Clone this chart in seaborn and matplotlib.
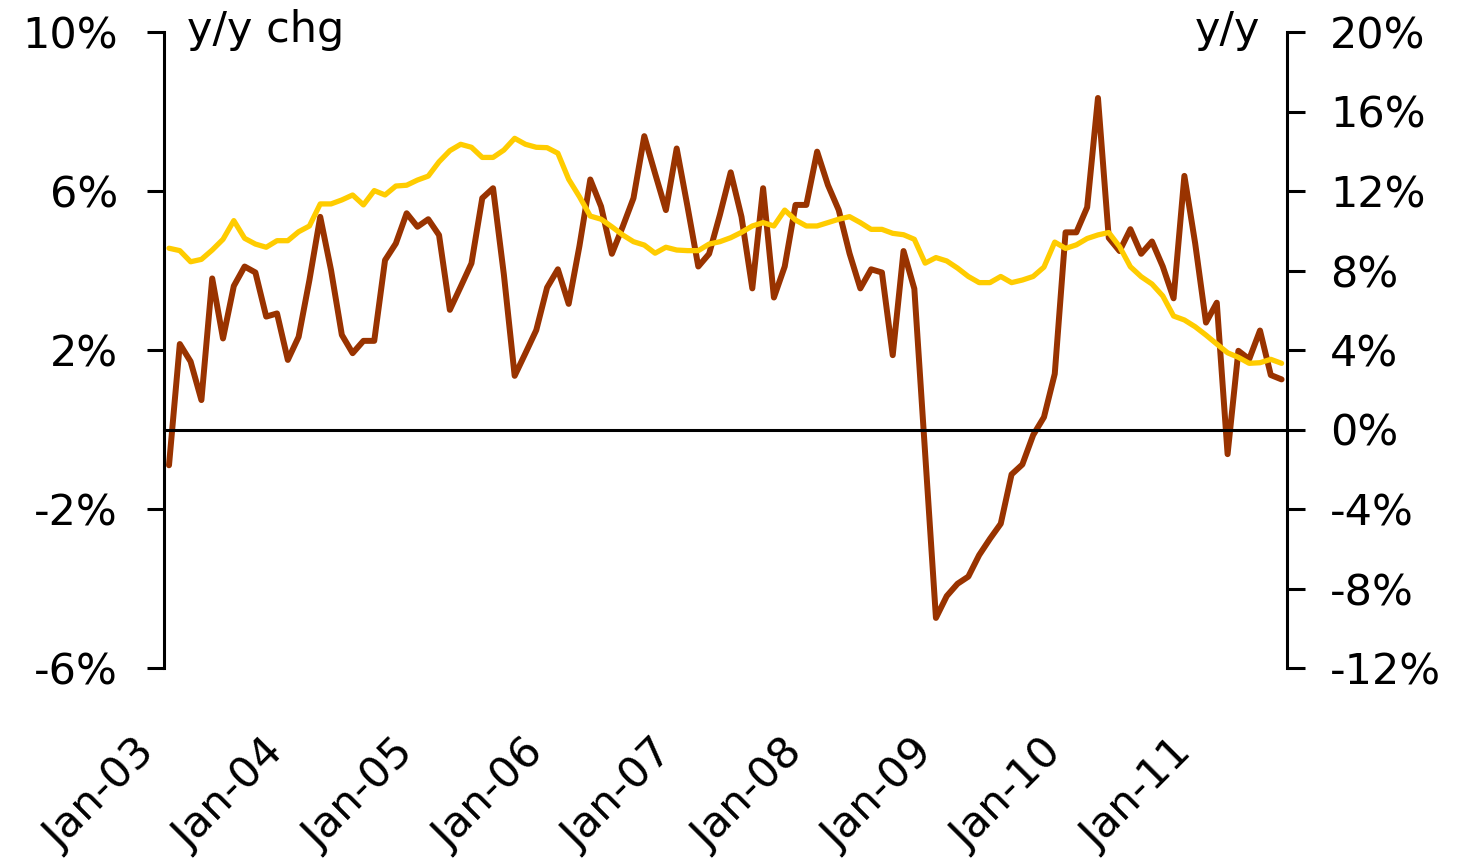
import numpy as np
import pandas as pd
import matplotlib
matplotlib.use('Agg')
import matplotlib.pyplot as plt
import seaborn as sns

# monthly categories Jan-03 .. Aug-11
months = pd.date_range('2003-01-01', periods=104, freq='MS').strftime('%b-%y')

# left axis series (y/y chg, %)
chg = [-0.90, 2.15, 1.71, 0.74, 3.80, 2.29, 3.61, 4.10, 3.95, 2.84, 2.92, 1.75,
       2.33, 3.76, 5.35, 4.01, 2.38, 1.92, 2.23, 2.23, 4.26, 4.68, 5.44, 5.10,
       5.29, 4.89, 3.01, 3.59, 4.18, 5.82, 6.07, 3.90, 1.35, 1.92, 2.50, 3.57,
       4.03, 3.16, 4.62, 6.29, 5.61, 4.42, 5.10, 5.82, 7.38, 6.44, 5.52, 7.07,
       5.61, 4.10, 4.42, 5.40, 6.47, 5.35, 3.55, 6.07, 3.32, 4.10, 5.65, 5.65,
       6.99, 6.15, 5.52, 4.43, 3.55, 4.03, 3.95, 1.87, 4.49, 3.54, -0.60, -4.74,
       -4.19, -3.88, -3.70, -3.16, -2.75, -2.37, -1.13, -0.88, -0.14, 0.31, 1.40, 4.96,
       4.96, 5.59, 8.34, 4.82, 4.49, 5.04, 4.42, 4.73, 4.10, 3.30, 6.38, 4.68,
       2.69, 3.19, -0.62, 1.98, 1.77, 2.49, 1.37, 1.26]

# right axis series (y/y, %)
yy = [9.12, 9.00, 8.44, 8.56, 9.03, 9.57, 10.51, 9.62, 9.33, 9.17, 9.50, 9.50,
      9.95, 10.24, 11.35, 11.35, 11.55, 11.80, 11.30, 12.02, 11.80, 12.25, 12.29, 12.55,
      12.75, 13.47, 14.03, 14.35, 14.20, 13.69, 13.69, 14.06, 14.65, 14.35, 14.20, 14.18,
      13.90, 12.59, 11.71, 10.74, 10.58, 10.20, 9.79, 9.45, 9.28, 8.87, 9.17, 9.03,
      9.00, 9.00, 9.33, 9.45, 9.65, 9.92, 10.24, 10.41, 10.24, 11.04, 10.54, 10.24,
      10.24, 10.41, 10.58, 10.71, 10.41, 10.07, 10.07, 9.87, 9.80, 9.57, 8.37, 8.65,
      8.48, 8.12, 7.70, 7.39, 7.39, 7.70, 7.39, 7.52, 7.70, 8.17, 9.43, 9.11,
      9.29, 9.61, 9.79, 9.91, 9.20, 8.19, 7.69, 7.32, 6.72, 5.71, 5.51, 5.17,
      4.75, 4.30, 3.86, 3.63, 3.33, 3.36, 3.53, 3.33]

left_ticks = [-6, -2, 2, 6, 10]
left_labels = ['-6%', '-2%', '2%', '6%', '10%']
right_ticks = [-12, -8, -4, 0, 4, 8, 12, 16, 20]
right_labels = ['-12%', '-8%', '-4%', '0%', '4%', '8%', '12%', '16%', '20%']
year_labels = ['Jan-03', 'Jan-04', 'Jan-05', 'Jan-06', 'Jan-07',
               'Jan-08', 'Jan-09', 'Jan-10', 'Jan-11']

sns.set_style('white')
plt.rcParams['font.family'] = ['DejaVu Sans']
plt.rcParams['text.color'] = 'black'
plt.rcParams['xtick.color'] = 'black'
plt.rcParams['ytick.color'] = 'black'

df = pd.DataFrame({'month': months, 'pos': np.arange(len(months)), 'chg': chg, 'yy': yy})

fig = plt.figure(figsize=(14.69, 8.59), dpi=100)
ax = fig.add_axes([163.6 / 1469, 1 - 668 / 859, (1287 - 163.6) / 1469, 636 / 859])
ax2 = ax.twinx()

sns.lineplot(data=df, x='pos', y='chg', ax=ax, color='#993300', linewidth=4.3)
sns.lineplot(data=df, x='pos', y='yy', ax=ax2, color='#FFCC00', linewidth=3.8)

ax.set_xlim(-0.5, len(months) - 0.5)
ax.set_ylim(-6, 10)
ax2.set_ylim(-12, 20)

ax.set_yticks(left_ticks)
ax.set_yticklabels(left_labels)
ax2.set_yticks(right_ticks)
ax2.set_yticklabels(right_labels)

# category axis crosses at zero, ticks every 12 months between categories
tick_pos = [12 * k - 0.5 for k in range(len(year_labels))]
ax.set_xticks(tick_pos)
ax.set_xticklabels([])
ax.spines['bottom'].set_position(('data', 0))

for a in (ax, ax2):
    a.set_xlabel('')
    a.set_ylabel('')
    a.spines['top'].set_visible(False)
    for s in a.spines.values():
        s.set_linewidth(2.2)
        s.set_color('black')
ax.spines['right'].set_visible(False)
ax2.spines['left'].set_visible(False)
ax2.spines['bottom'].set_visible(False)

ax.tick_params(axis='y', direction='out', length=12, width=2.2, pad=21, labelsize=31)
ax2.tick_params(axis='y', direction='out', length=13, width=2.2, pad=18, labelsize=31)
ax.tick_params(axis='x', direction='out', length=12, width=2.2, labelbottom=False)

# rotated year labels below the plot
for p, lab in zip(tick_pos, year_labels):
    ax.annotate(lab, xy=(p, 0), xycoords=('data', 'axes fraction'),
                xytext=(-22, -46), textcoords='offset points',
                rotation=45, rotation_mode='anchor', ha='right', va='top',
                fontsize=31)

ax.text(0.021, 0.984, 'y/y chg', transform=ax.transAxes, fontsize=31,
        ha='left', va='baseline')
ax.text(0.976, 0.984, 'y/y', transform=ax.transAxes, fontsize=31,
        ha='right', va='baseline')

fig.savefig('out.png', dpi=100)
